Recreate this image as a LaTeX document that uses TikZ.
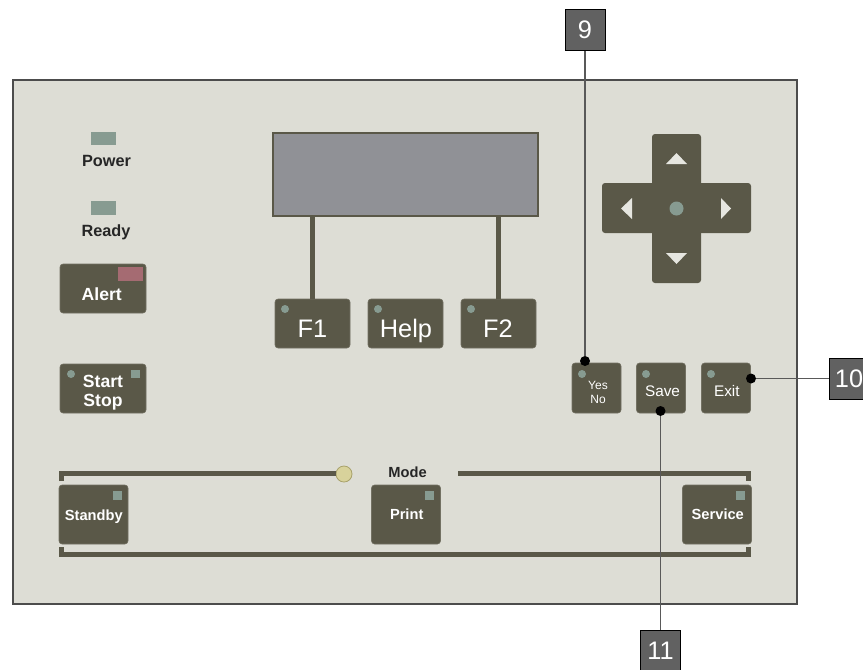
\documentclass[tikz,border=0pt]{standalone}
\usepackage{fontspec}
\setmainfont{Liberation Sans}
\usetikzlibrary{positioning, calc}

\definecolor{panelgray}{HTML}{DDDDD5}
\definecolor{keygray}{HTML}{5A5848}
\definecolor{lcdgray}{HTML}{909196}
\definecolor{ledgreen}{HTML}{879B91}
\definecolor{ledred}{HTML}{A56B72}
\definecolor{lampyellow}{HTML}{D8D29B}
\definecolor{lampedge}{HTML}{A8A16A}
\definecolor{arrowwhite}{HTML}{E6E6E0}
\definecolor{tagbox}{HTML}{616161}

\begin{document}
\begin{tikzpicture}[x=0.75pt, y=-0.75pt,
    keybox/.style={rectangle, rounded corners=2.25pt, fill=keygray, draw=keygray!85!white, line width=0.4pt, inner sep=0pt},
    keytext/.style={text=white, inner sep=0pt, text depth=0pt, align=center},
    paneltext/.style={text=black!85, inner sep=0pt, text depth=0pt, font=\bfseries\fontsize{12.2}{14}\selectfont},
    bracket/.style={keygray, line width=3.75pt},
    tagnum/.style={rectangle, fill=tagbox, draw=black, line width=0.6pt, text=white, minimum width=30pt, minimum height=30.75pt, inner sep=0pt, font=\fontsize{19}{21}\selectfont},
    tagdot/.style={circle, fill=black, minimum size=7.5pt, inner sep=0pt},
    tagline/.style={black!65, line width=0.9pt}]
    \useasboundingbox (0,0) rectangle (863,669);
    \clip (0,0) rectangle (863,669);
    \fill[white] (0,0) rectangle (863,669);
    \draw[fill=panelgray, draw=black!70, line width=1.5pt] (13,80) rectangle (797,604);

    \fill[ledgreen] (91,132) rectangle (116,145);
    \node[paneltext] (power) at (106.5,160.5) {Power};
    \fill[ledgreen] (91,201) rectangle (116,215);
    \node[paneltext] (ready) at (106,230.5) {Ready};

    \node[keybox, minimum width=64.5pt, minimum height=36.75pt] (alert) at (103,288.5) {};
    \fill[ledred] (118,267) rectangle (143,281);
    \node[keytext, font=\bfseries\fontsize{13.2}{14.25}\selectfont] (alertlbl) at (101.7,294) {Alert};

    \node[keybox, minimum width=64.5pt, minimum height=36.75pt] (start) at (103,388.5) {};
    \fill[ledgreen] (71,374) circle (4);
    \fill[ledgreen] (131,370) rectangle (140,378);
    \node[keytext, font=\bfseries\fontsize{13.2}{14.25}\selectfont] (startlbl) at (103,390.5) {Start\\Stop};

    \node[draw=keygray, line width=1.5pt, fill=lcdgray, minimum width=198.75pt, minimum height=62.25pt, inner sep=0pt] (display) at (405.5,174.5) {};

    \node[keybox, minimum width=56.25pt, minimum height=36.75pt] (f1) at (312.5,323.5) {};
    \node[keybox, minimum width=56.25pt, minimum height=36.75pt] (help) at (405.5,323.5) {};
    \node[keybox, minimum width=56.25pt, minimum height=36.75pt] (f2) at (498.5,323.5) {};
    \foreach \px in {285,378,471}
        \fill[ledgreen] (\px,309) circle (4);
    \node[keytext, font=\fontsize{19}{21}\selectfont] (f1lbl) at (312.5,328.5) {F1};
    \node[keytext, font=\fontsize{19}{21}\selectfont] (helplbl) at (406,328.5) {Help};
    \node[keytext, font=\fontsize{19}{21}\selectfont] (f2lbl) at (498,328.5) {F2};
    \draw[keygray, line width=3.75pt] (f1 |- display.south) -- (f1.north);
    \draw[keygray, line width=3.75pt] (f2 |- display.south) -- (f2.north);

    \fill[keygray, rounded corners=2.25pt] (652,134) rectangle (701,283);
    \fill[keygray, rounded corners=2.25pt] (602,183) rectangle (751,233);
    \fill[ledgreen] (676.5,208.5) circle (7);
    \fill[arrowwhite] (676.5,153) -- (666,164) -- (687,164) -- cycle;
    \fill[arrowwhite] (666,253) -- (687,253) -- (676.5,264) -- cycle;
    \fill[arrowwhite] (621,208.5) -- (632,198) -- (632,219) -- cycle;
    \fill[arrowwhite] (731,208.5) -- (721,198) -- (721,219) -- cycle;

    \node[keybox, minimum width=36.75pt, minimum height=37.5pt] (yesno) at (596.5,388) {};
    \node[keybox, minimum width=36.75pt, minimum height=37.5pt] (save) at (661,388) {};
    \node[keybox, minimum width=36.75pt, minimum height=37.5pt] (exit) at (726,388) {};
    \foreach \px in {582,646,711}
        \fill[ledgreen] (\px,374) circle (4);
    \node[keytext, font=\fontsize{9}{10.5}\selectfont] (yesnolbl) at (598,392.8) {Yes\\No};
    \node[keytext, font=\fontsize{11.5}{13}\selectfont] (savelbl) at (662.5,391) {Save};
    \node[keytext, font=\fontsize{11.5}{13}\selectfont] (exitlbl) at (726.8,391) {Exit};

    \node[circle, fill=lampyellow, draw=lampedge, line width=0.6pt, minimum size=12pt, inner sep=0pt] (lamp) at (344,474) {};
    \draw[bracket] (61.5,481) -- (61.5,473.5) -- (lamp.west |- 0,473.5);
    \draw[bracket] (458,473.5) -- (748.5,473.5) -- (748.5,481);
    \draw[bracket] (61.5,547) -- (61.5,554.5) -- (748.5,554.5) -- (748.5,547);
    \node[paneltext, font=\bfseries\fontsize{11}{13}\selectfont] (mode) at (407.5,472.3) {Mode};

    \node[keybox, minimum width=51.75pt, minimum height=44.25pt] (standby) at (93.5,514.5) {};
    \node[keybox, minimum width=51.75pt, minimum height=44.25pt] (print) at (406,514.5) {};
    \node[keybox, minimum width=51.75pt, minimum height=44.25pt] (service) at (717,514.5) {};
    \foreach \px in {113,425,736}
        \fill[ledgreen] (\px,491) rectangle (\px+9,500);
    \node[keytext, font=\bfseries\fontsize{11}{13}\selectfont] (standbylbl) at (93.8,514.8) {Standby};
    \node[keytext, font=\bfseries\fontsize{11}{13}\selectfont] (printlbl) at (406.7,514.5) {Print};
    \node[keytext, font=\bfseries\fontsize{11}{13}\selectfont] (servicelbl) at (717.8,514.5) {Service};

    \node[tagnum] (nine) at (585,30) {9};
    \node[tagnum] (ten) at (849,378.5) {10};
    \node[tagnum] (eleven) at (660.5,650.5) {11};
    \node[tagdot] (yesdot) at (585,361) {};
    \node[tagdot] (exitdot) at (751,378.5) {};
    \node[tagdot] (savedot) at (660.5,411) {};
    \draw[tagline] (nine) -- (yesdot);
    \draw[tagline] (ten) -- (exitdot);
    \draw[tagline] (eleven) -- (savedot);
\end{tikzpicture}
\end{document}
